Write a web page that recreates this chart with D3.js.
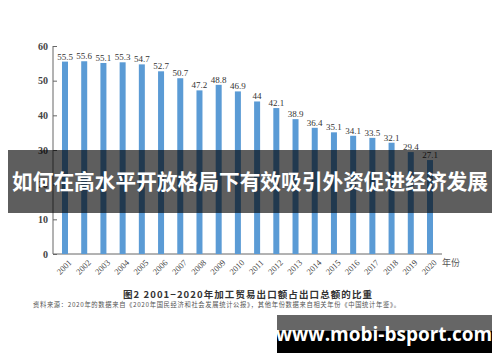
<!DOCTYPE html>
<html>
<head>
<meta charset="utf-8">
<script src="https://cdn.jsdelivr.net/npm/d3@7"></script>
<style>
  body { margin: 0; background: #fff; }
  svg { display: block; }
</style>
</head>
<body>
<svg width="500" height="362"></svg>
<script>
// data
const years = ["2001", "2002", "2003", "2004", "2005", "2006", "2007", "2008", "2009", "2010",
    "2011", "2012", "2013", "2014", "2015", "2016", "2017", "2018", "2019", "2020"];
const shares = [55.5, 55.6, 55.1, 55.3, 54.7, 52.7, 50.7, 47.2, 48.8, 46.9,
    44, 42.1, 38.9, 36.4, 35.1, 34.1, 33.5, 32.1, 29.4, 27.1];
const yTicks = [0, 10, 20, 30, 40, 50, 60];

const svg = d3.select("svg");
const serif = "'Liberation Serif', 'DejaVu Serif', serif";
const cjk = "'Noto Sans CJK SC', sans-serif";

const x = d3.scalePoint()
    .domain(years)
    .range([65, 430]);

const y = d3.scaleLinear()
    .domain([0, 60])
    .range([254, 46]);

// axes
const gy = svg.append("g")
    .attr("transform", "translate(53,0)")
    .call(d3.axisRight(y).tickValues(yTicks).tickSize(4).tickFormat(d3.format("d")));
gy.select(".domain").attr("stroke", "#666").attr("d", `M0,${y(60)}V${y(0)}`);
gy.selectAll(".tick line").attr("stroke", "#666");
gy.selectAll(".tick text")
    .attr("x", -5)
    .attr("text-anchor", "end")
    .attr("fill", "#444")
    .attr("font-family", serif)
    .attr("font-weight", "bold")
    .attr("font-size", 10);

svg.append("line")
    .attr("x1", 53).attr("x2", 442)
    .attr("y1", y(0)).attr("y2", y(0))
    .attr("stroke", "#666");

// bars
svg.append("g")
    .selectAll("rect")
    .data(shares)
    .join("rect")
    .attr("x", (d, i) => x(years[i]) - 3)
    .attr("width", 6)
    .attr("y", d => y(d))
    .attr("height", d => y(0) - y(d))
    .attr("fill", "#5b9bd5");

// value labels
svg.append("g")
    .selectAll("text")
    .data(shares)
    .join("text")
    .attr("x", (d, i) => x(years[i]))
    .attr("y", d => y(d) - 2)
    .attr("text-anchor", "middle")
    .attr("font-family", serif)
    .attr("font-size", 9)
    .attr("fill", "#333")
    .text(d => d);

// year labels, rotated
svg.append("g")
    .selectAll("text")
    .data(years)
    .join("text")
    .attr("transform", d => `translate(${x(d) + 3},${y(0) + 5}) rotate(-45)`)
    .attr("text-anchor", "end")
    .attr("dy", "0.7em")
    .attr("font-family", serif)
    .attr("font-size", 8.5)
    .attr("fill", "#444")
    .text(d => d);

svg.append("text")
    .attr("x", 442).attr("y", 266)
    .attr("font-family", cjk)
    .attr("font-size", 9)
    .attr("fill", "#555")
    .text("年份");

// caption and source
svg.append("text")
    .attr("x", 123).attr("y", 298)
    .attr("textLength", 249)
    .attr("lengthAdjust", "spacing")
    .attr("font-family", cjk)
    .attr("font-weight", "bold")
    .attr("font-size", 9.5)
    .attr("fill", "#333")
    .text("图2  2001−2020年加工贸易出口额占出口总额的比重");

svg.append("text")
    .attr("x", 33).attr("y", 306.5)
    .attr("textLength", 367)
    .attr("lengthAdjust", "spacing")
    .attr("font-family", cjk)
    .attr("font-size", 6.3)
    .attr("fill", "#555")
    .text("资料来源：2020年的数据来自《2020年国民经济和社会发展统计公报》，其他年份数据来自相关年份《中国统计年鉴》。");

// title banner over the chart
svg.append("rect")
    .attr("x", 8).attr("y", 150)
    .attr("width", 484).attr("height", 63)
    .attr("fill", "rgba(0,0,0,0.63)");

svg.append("text")
    .attr("x", 250).attr("y", 182)
    .attr("dy", "0.35em")
    .attr("text-anchor", "middle")
    .attr("textLength", 476)
    .attr("lengthAdjust", "spacingAndGlyphs")
    .attr("font-family", cjk)
    .attr("font-weight", "bold")
    .attr("font-size", 21)
    .attr("fill", "#fff")
    .text("如何在高水平开放格局下有效吸引外资促进经济发展");

// site watermark
svg.append("rect")
    .attr("x", 277).attr("y", 315)
    .attr("width", 215).attr("height", 16)
    .attr("fill", "#666");
svg.append("rect")
    .attr("x", 277).attr("y", 331)
    .attr("width", 215).attr("height", 22)
    .attr("fill", "#000");
svg.append("text")
    .attr("x", 384).attr("y", 341)
    .attr("text-anchor", "middle")
    .attr("font-family", "'Open Sans', 'DejaVu Sans', sans-serif")
    .attr("font-weight", "bold")
    .attr("font-size", 19)
    .attr("fill", "#fff")
    .text("www.mobi-bsport.com");
</script>
</body>
</html>
